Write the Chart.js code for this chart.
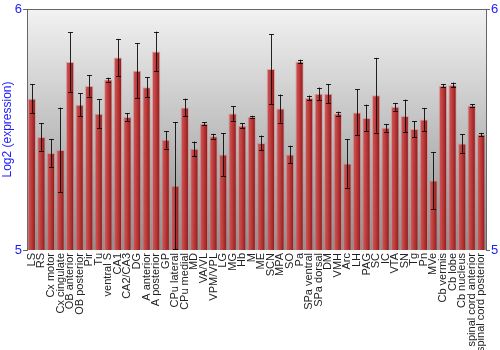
<!DOCTYPE html>
<html><head><meta charset="utf-8">
<script src="https://cdn.jsdelivr.net/npm/chart.js@4/dist/chart.umd.min.js"></script>
<style>html,body{margin:0;padding:0;background:#fff}#wrap{width:500px;height:350px}</style>
</head><body><div id="wrap"><canvas id="c" width="500" height="350"></canvas></div>
<script>
const categories = ["LS","RS","Cx motor","Cx cingulate","OB anterior","OB posterior","Pir","Tu","ventral S","CA1","CA2/CA3","DG","A anterior","A posterior","GP","CPu lateral","CPu medial","MD","VA/VL","VPM/VPL","LG","MG","Hb","M","ME","SCN","MPA","SO","Pa","SPa ventral","SPa dorsal","DM","VMH","Arc","LH","PAG","SC","IC","VTA","SN","Tg","Pn","MVe","Cb vermis","Cb lobe","Cb nucleus","spinal cord anterior","spinal cord posterior"];
const means = [5.628,5.469,5.403,5.415,5.780,5.603,5.681,5.565,5.707,5.799,5.552,5.744,5.675,5.824,5.457,5.267,5.591,5.420,5.524,5.472,5.396,5.566,5.516,5.553,5.444,5.751,5.587,5.396,5.782,5.631,5.648,5.648,5.566,5.359,5.571,5.548,5.642,5.507,5.594,5.556,5.502,5.541,5.288,5.682,5.685,5.442,5.600,5.479];
const errors = [0.060,0.057,0.058,0.176,0.123,0.047,0.045,0.060,0.008,0.077,0.016,0.115,0.041,0.082,0.036,0.264,0.037,0.030,0.006,0.010,0.089,0.030,0.010,0.004,0.031,0.145,0.058,0.037,0.008,0.010,0.026,0.040,0.008,0.100,0.095,0.055,0.155,0.016,0.016,0.068,0.033,0.048,0.119,0.007,0.010,0.039,0.005,0.007];
const yTicks = [5, 6];

const bgPlugin = {
  id: 'bg',
  beforeDraw(chart) {
    const {ctx, chartArea: a} = chart;
    const g = ctx.createLinearGradient(0, a.top, 0, a.bottom);
    g.addColorStop(0, '#f2f2f2');
    g.addColorStop(1, '#8e8e8e');
    ctx.save(); ctx.fillStyle = g; ctx.fillRect(a.left, a.top, a.right - a.left, a.bottom - a.top); ctx.restore();
  },
  afterDraw(chart) {
    const {ctx, chartArea: a} = chart;
    ctx.save(); ctx.strokeStyle = '#666'; ctx.lineWidth = 1;
    ctx.beginPath(); ctx.moveTo(a.left, a.top + 0.5); ctx.lineTo(a.right, a.top + 0.5); ctx.stroke();
    ctx.restore();
  }
};
const errPlugin = {
  id: 'err',
  afterDatasetsDraw(chart) {
    const {ctx} = chart; const y = chart.scales.y;
    const meta = chart.getDatasetMeta(0);
    ctx.save(); ctx.strokeStyle = 'rgba(0,0,0,0.85)'; ctx.lineWidth = 1;
    meta.data.forEach((el, i) => {
      const x = Math.round(el.x) + 0.5;
      const t = y.getPixelForValue(means[i] + errors[i]);
      const b = y.getPixelForValue(means[i] - errors[i]);
      ctx.beginPath();
      ctx.moveTo(x, t); ctx.lineTo(x, b);
      ctx.moveTo(x - 2.5, Math.round(t) + 0.5); ctx.lineTo(x + 2.5, Math.round(t) + 0.5);
      ctx.moveTo(x - 2.5, Math.round(b) + 0.5); ctx.lineTo(x + 2.5, Math.round(b) + 0.5);
      ctx.stroke();
    });
    ctx.restore();
  }
};
function barFill(c) {
  const xs = c.chart.scales.x;
  if (!xs || xs.width == null || !isFinite(xs.getPixelForValue(c.dataIndex))) return '#b83a3a';
  const cx = xs.getPixelForValue(c.dataIndex);
  const w = xs.width / categories.length * 0.87;
  const g = c.chart.ctx.createLinearGradient(cx - w / 2, 0, cx + w / 2, 0);
  g.addColorStop(0, '#d25a5a');
  g.addColorStop(0.35, '#c44444');
  g.addColorStop(0.7, '#a82a2a');
  g.addColorStop(1, '#7a1616');
  return g;
}
new Chart(document.getElementById('c'), {
  type: 'bar',
  data: { labels: categories, datasets: [{ data: means, backgroundColor: barFill, borderColor: 'rgba(215,130,130,0.55)', borderWidth: 1, barPercentage: 0.87, categoryPercentage: 1.0 }] },
  options: {
    responsive: false, animation: false,
    layout: { padding: { top: 9, right: 0, left: 0, bottom: 0 } },
    plugins: { legend: { display: false }, tooltip: { enabled: false } },
    scales: {
      x: {
        grid: { display: false, drawTicks: false },
        border: { display: false },
        ticks: { autoSkip: false, maxRotation: 90, minRotation: 90, padding: 3, color: '#222', font: { family: 'Liberation Sans, Arial', size: 11 } },
        afterFit(s) { s.height = 100; }
      },
      y: {
        position: 'left', min: 5, max: 6,
        afterBuildTicks(s) { s.ticks = yTicks.map(v => ({ value: v })); },
        grid: { drawOnChartArea: false, tickLength: 4, color: '#666' },
        border: { color: '#666' },
        ticks: { color: '#1a1aff', padding: 1, font: { family: 'Liberation Sans, Arial', size: 13 } },
        title: { display: true, text: 'Log2 (expression)', color: '#1a1aff', padding: 0, font: { family: 'Liberation Sans, Arial', size: 12 } },
        afterFit(s) { s.width = 27; }
      },
      y2: {
        position: 'right', min: 5, max: 6,
        afterBuildTicks(s) { s.ticks = yTicks.map(v => ({ value: v })); },
        grid: { drawOnChartArea: false, tickLength: 4, color: '#666' },
        border: { color: '#666' },
        ticks: { color: '#1a1aff', padding: 1, font: { family: 'Liberation Sans, Arial', size: 13 } },
        afterFit(s) { s.width = 14; }
      }
    }
  },
  plugins: [bgPlugin, errPlugin]
});
</script></body></html>
